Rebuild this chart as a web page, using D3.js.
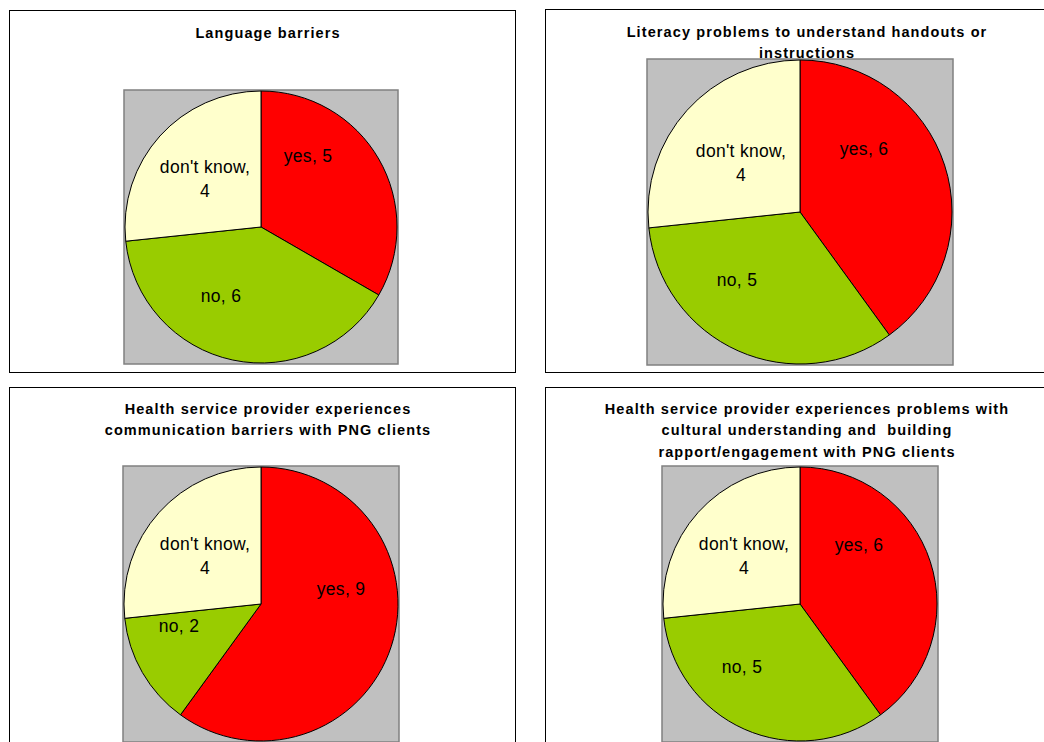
<!DOCTYPE html>
<html>
<head>
<meta charset="utf-8">
<script src="https://cdn.jsdelivr.net/npm/d3@7/dist/d3.min.js"></script>
<style>
  html, body { margin: 0; padding: 0; background: #fff; }
  svg { display: block; }
  text { white-space: pre; }
</style>
</head>
<body>
<svg id="chart" width="1044" height="742"></svg>
<script>
// Survey answers, one pie per question
const categories = ["yes", "no", "don't know"];
const titles = [
  ["Language barriers"],
  ["Literacy problems to understand handouts or", "instructions"],
  ["Health service provider experiences", "communication barriers with PNG clients"],
  ["Health service provider experiences problems with", "cultural understanding and  building", "rapport/engagement with PNG clients"]
];
const languageBarriers = [5, 6, 4];
const literacyProblems = [6, 5, 4];
const communicationBarriers = [9, 2, 4];
const culturalUnderstanding = [6, 5, 4];
const seriesValues = [languageBarriers, literacyProblems, communicationBarriers, culturalUnderstanding];

const sliceColors = ["#FF0000", "#99CC00", "#FFFFCC"];

// Panel layout: frame box, pie centre, radius, title anchor, label offsets from centre
const panels = [
  { x: 9,   y: 10,  w: 506, h: 362, cx: 261, cy: 227, r: 136, tx: 268, ty: 38,
    labels: [[47, -71], [-40, 69], [-56, -48]] },
  { x: 545, y: 9,   w: 506, h: 363, cx: 800, cy: 212, r: 152, tx: 807, ty: 37,
    labels: [[64, -63], [-63, 68], [-59, -49]] },
  { x: 9,   y: 387, w: 506, h: 362, cx: 261, cy: 604, r: 137, tx: 268, ty: 414,
    labels: [[80, -15], [-82, 22], [-56, -48]] },
  { x: 545, y: 387, w: 506, h: 362, cx: 800, cy: 604, r: 137, tx: 807, ty: 414,
    labels: [[59, -59], [-58, 63], [-56, -48]] }
];

const svg = d3.select("#chart");
const pie = d3.pie().sort(null).value(d => d.value);

panels.forEach((p, i) => {
  const g = svg.append("g");

  // chart frame
  g.append("rect")
    .attr("x", p.x + 0.5).attr("y", p.y + 0.5)
    .attr("width", p.w).attr("height", p.h)
    .attr("fill", "#fff").attr("stroke", "#000").attr("stroke-width", 1);

  // title
  const t = g.append("text")
    .attr("x", p.tx).attr("y", p.ty)
    .attr("text-anchor", "middle")
    .attr("font-family", "Arial, 'Liberation Sans', sans-serif")
    .attr("font-weight", "bold")
    .attr("font-size", 14.5)
    .attr("letter-spacing", 1.1)
    .attr("fill", "#000");
  titles[i].forEach((line, j) => {
    t.append("tspan").attr("x", p.tx).attr("dy", j === 0 ? 0 : 21.3).text(line);
  });

  // grey plot area
  g.append("rect")
    .attr("x", p.cx - p.r - 1).attr("y", p.cy - p.r - 1)
    .attr("width", 2 * p.r + 2).attr("height", 2 * p.r + 2)
    .attr("fill", "#C0C0C0").attr("stroke", "#808080").attr("stroke-width", 1.5);

  const data = categories.map((c, k) => ({ category: c, value: seriesValues[i][k], color: sliceColors[k] }));
  const arcs = pie(data);
  const arc = d3.arc().innerRadius(0).outerRadius(p.r);

  const pg = g.append("g").attr("transform", `translate(${p.cx},${p.cy})`);
  pg.selectAll("path.slice")
    .data(arcs)
    .join("path")
    .attr("class", "slice")
    .attr("d", arc)
    .attr("fill", d => d.data.color)
    .attr("stroke", "#000")
    .attr("stroke-width", 1)
    .attr("stroke-linejoin", "round");

  // data labels: "category, value"
  pg.selectAll("text.lbl")
    .data(arcs)
    .join("text")
    .attr("class", "lbl")
    .attr("text-anchor", "middle")
    .attr("font-family", "Arial, 'Liberation Sans', sans-serif")
    .attr("font-size", 17.5)
    .attr("letter-spacing", 0.3)
    .attr("fill", "#000")
    .each(function (d, k) {
      const [dx, dy] = p.labels[k];
      const el = d3.select(this);
      const lines = d.data.category === "don't know"
        ? [d.data.category + ",", String(d.data.value)]
        : [d.data.category + ", " + d.data.value];
      const lh = 24;
      const y0 = dy - (lines.length - 1) * lh / 2 + 6;
      lines.forEach((ln, j) => {
        el.append("tspan").attr("x", dx).attr("y", y0 + j * lh).text(ln);
      });
    });
});
</script>
</body>
</html>
